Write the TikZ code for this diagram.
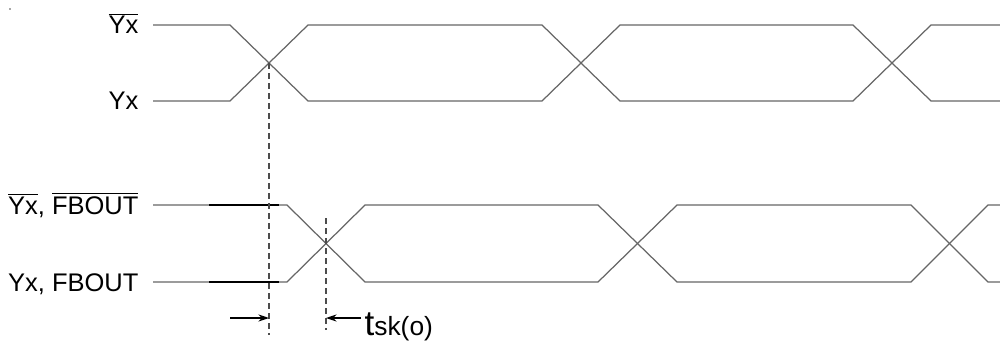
\documentclass[tikz,border=0pt]{standalone}
\usepackage{fontspec}
\setmainfont{Liberation Sans}
\usetikzlibrary{arrows.meta}
\newcommand{\ovl}[1]{$\overline{\mbox{#1}}$}

\begin{document}
\begin{tikzpicture}[x = 0.02cm, y = -0.02cm, line width = 0.7pt]
\tikzset{wave/.style = {black!60},
  hold/.style = {black, line width = 1.1pt},
  guide/.style = {black!70, line width = 0.6pt, dash pattern = on 3.4pt off 2.3pt},
  skew/.style = {black, line width = 0.7pt, -{Stealth[length = 6pt, width = 4pt]}},
  lbl/.style = {anchor = base east, inner sep = 0pt, font = \fontsize{14.5}{17}\selectfont}}
\useasboundingbox (0,0) rectangle (1000,341);
\fill[black!70] (10,9) circle (0.8);
% labels
\node[lbl] (ybar) at (139,34) {\ovl{Yx}};
\node[lbl] (y) at (139,110) {Yx};
\node[lbl] (ybarfb) at (139,214) {\ovl{Yx}, \ovl{FBOUT}};
\node[lbl] (yfb) at (139,291) {Yx, FBOUT};
% outputs Yx
\draw[wave] (153,25) -- (230,25) -- (308,101) -- (542,101) -- (620,25) -- (853,25) -- (931,101) -- (1000,101);
\draw[wave] (153,101) -- (230,101) -- (308,25) -- (542,25) -- (620,101) -- (853,101) -- (931,25) -- (1000,25);
% outputs Yx, FBOUT
\draw[wave] (153,205) -- (287,205) -- (365,282) -- (598,282) -- (677,205) -- (911,205) -- (988,282) -- (1000,282);
\draw[wave] (153,282) -- (287,282) -- (365,205) -- (598,205) -- (677,282) -- (911,282) -- (988,205) -- (1000,205);
\draw[hold] (209,205) -- (279,205);
\draw[hold] (209,282) -- (279,282);
% skew markers
\coordinate (c1) at (269,63);
\coordinate (c2) at (326,218);
\draw[guide] (c1) -- (269,335);
\draw[guide] (c2) -- (326,330);
\draw[skew] (230,318) -- (269,318);
\draw[skew] (361,318) -- (326,318);
\node[anchor = base west, inner sep = 0pt] (tsk) at (364,335) {\fontsize{20}{20}\selectfont t\fontsize{15}{15}\selectfont sk(o)};
\end{tikzpicture}
\end{document}
